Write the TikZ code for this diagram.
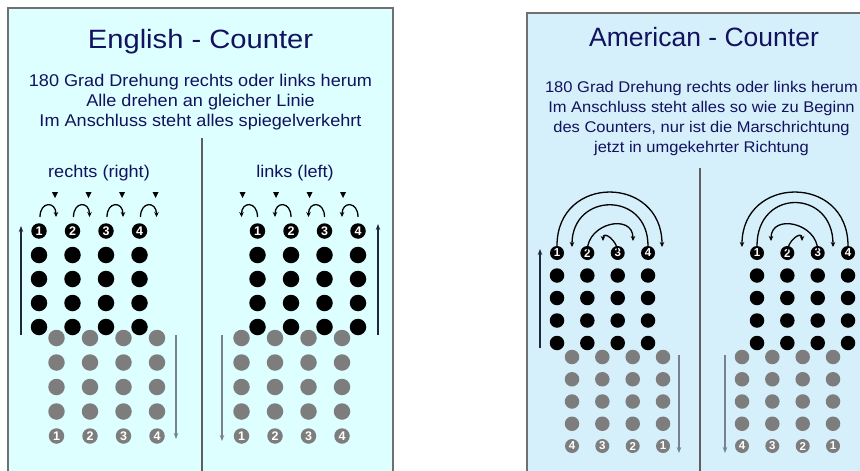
\documentclass[tikz,border=0pt]{standalone}
\usepackage{fontspec}
\usepackage{graphicx}
\setmainfont{Liberation Sans}
\usetikzlibrary{arrows.meta}
\definecolor{navy}{RGB}{18,18,95}
\definecolor{panelA}{RGB}{221,255,255}
\definecolor{panelB}{RGB}{213,239,251}
\definecolor{framec}{RGB}{112,112,112}
\definecolor{dotgray}{RGB}{125,125,125}
\definecolor{arrdark}{RGB}{30,40,60}
\definecolor{arrgray}{RGB}{120,130,140}
\tikzset{
  panel/.style={draw=framec,line width=2pt},
  divider/.style={draw=framec!85!black,line width=2pt},
  ttl/.style={text=navy,anchor=base,inner sep=0pt,font=\fontsize{26.5}{26.5}\selectfont},
  subt/.style={text=navy,anchor=base,inner sep=0pt,font=\fontsize{17}{17}\selectfont},
  subtS/.style={text=navy,anchor=base,inner sep=0pt,font=\fontsize{15.5}{15.5}\selectfont},
  bdot/.style={circle,fill=black,inner sep=0pt,minimum size=16.5pt},
  gdot/.style={circle,fill=dotgray,inner sep=0pt,minimum size=16.5pt},
  bnum/.style={circle,fill=black,text=white,inner sep=0pt,minimum size=15.5pt,font=\bfseries\fontsize{12.5}{12.5}\selectfont},
  gnum/.style={circle,fill=dotgray,text=white,inner sep=0pt,minimum size=15.5pt,font=\bfseries\fontsize{12.5}{12.5}\selectfont},
  bdotS/.style={bdot,minimum size=14.5pt},
  gdotS/.style={gdot,minimum size=14.5pt},
  bnumS/.style={bnum,minimum size=14pt,font=\bfseries\fontsize{11.5}{11.5}\selectfont},
  gnumS/.style={gnum,minimum size=14pt,font=\bfseries\fontsize{11.5}{11.5}\selectfont},
  darr/.style={draw=arrdark,line width=1.2pt,-{Stealth[length=6pt,width=4.5pt]}},
  garr/.style={draw=arrgray,line width=1.2pt,-{Stealth[length=6pt,width=4.5pt]}},
  carr/.style={draw=black,line width=1.3pt,-{Stealth[length=5pt,width=4.5pt]}},
  tri/.style={fill=black}
}
\begin{document}
\begin{tikzpicture}[x=1pt,y=-1pt]
\useasboundingbox (0,0) rectangle (860,471);
\clip (0,0) rectangle (860,471);
\fill[white] (0,0) rectangle (860,471);
% panels
\draw[panel,fill=panelA] (8,8) rectangle (393,495);
\draw[panel,fill=panelB] (527,13) rectangle (905,495);
\coordinate (dA0) at (202,138); \coordinate (dA1) at (202,480);
\coordinate (dB0) at (700,168); \coordinate (dB1) at (700,480);
\draw[divider] (dA0) -- (dA1);
\draw[divider] (dB0) -- (dB1);
% texts left
\node[ttl] (tA) at (200.5,48) {\scalebox{1.1}[1]{English - Counter}};
\node[subt] (sA1) at (200.5,86) {\scalebox{1.065}[1]{180 Grad Drehung rechts oder links herum}};
\node[subt] (sA2) at (200.5,106) {\scalebox{1.065}[1]{Alle drehen an gleicher Linie}};
\node[subt] (sA3) at (200.5,126) {\scalebox{1.065}[1]{Im Anschluss steht alles spiegelverkehrt}};
\node[subt] (hA1) at (99,177) {\scalebox{1.065}[1]{rechts (right)}};
\node[subt] (hA2) at (295,177) {\scalebox{1.065}[1]{links (left)}};
% texts right
\node[ttl] (tB) at (704,46) {American - Counter};
\node[subtS] (sB1) at (701.5,92) {\scalebox{1.065}[1]{180 Grad Drehung rechts oder links herum}};
\node[subtS] (sB2) at (701.5,112) {\scalebox{1.065}[1]{Im Anschluss steht alles so wie zu Beginn}};
\node[subtS] (sB3) at (701.5,132) {\scalebox{1.065}[1]{des Counters, nur ist die Marschrichtung}};
\node[subtS] (sB4) at (701.5,152) {\scalebox{1.065}[1]{jetzt in umgekehrter Richtung}};

% ---------- Left part 1: rechts ----------
\foreach \x [count=\i] in {56.5,90,123.5,157} {
  \foreach \y [count=\j] in {338,362.5,387,411.5} \node[gdot] (La-g\i-\j) at (\x,\y) {};
  \node[gnum] (La-g\i-5) at (\x,436) {\i};
}
\foreach \x [count=\i] in {39,72.5,106,139.5} {
  \foreach \y [count=\j from 2] in {255,279,303,327} \node[bdot] (La-b\i-\j) at (\x,\y) {};
  \node[bnum] (La-b\i-1) at (\x,231) {\i};
  \fill[tri] (\x+13,192) -- (\x+19,192) -- (\x+16,198) -- cycle;
  \coordinate (La-s\i) at (\x+1,217);
  \coordinate (La-e\i) at (\x+17,217);
  \draw[carr] (La-s\i) .. controls +(0,-16) and +(0,-16) .. (La-e\i);
}
\coordinate (La-u0) at (21,335); \coordinate (La-u1) at (21,226);
\draw[darr] (La-u0) -- (La-u1);
\coordinate (La-d0) at (176,335); \coordinate (La-d1) at (176,439);
\draw[garr] (La-d0) -- (La-d1);

% ---------- Left part 2: links ----------
\foreach \x [count=\i] in {241.5,275,308.5,342} {
  \foreach \y [count=\j] in {338,362.5,387,411.5} \node[gdot] (Lb-g\i-\j) at (\x,\y) {};
  \node[gnum] (Lb-g\i-5) at (\x,436) {\i};
}
\foreach \x [count=\i] in {257.5,291,324.5,358} {
  \foreach \y [count=\j from 2] in {255,279,303,327} \node[bdot] (Lb-b\i-\j) at (\x,\y) {};
  \node[bnum] (Lb-b\i-1) at (\x,231) {\i};
  \fill[tri] (\x-18,192) -- (\x-12,192) -- (\x-15,198) -- cycle;
  \coordinate (Lb-s\i) at (\x,217);
  \coordinate (Lb-e\i) at (\x-16,217);
  \draw[carr] (Lb-s\i) .. controls +(0,-16) and +(0,-16) .. (Lb-e\i);
}
\coordinate (Lb-u0) at (378,335); \coordinate (Lb-u1) at (378,224);
\draw[darr] (Lb-u0) -- (Lb-u1);
\coordinate (Lb-d0) at (222,335); \coordinate (Lb-d1) at (222,441);
\draw[garr] (Lb-d0) -- (Lb-d1);

% ---------- Right part 1 ----------
\foreach \x/\n [count=\i] in {572/4,602.3/3,632.7/2,663/1} {
  \foreach \y [count=\j] in {357,379.25,401.5,423.75} \node[gdotS] (Ra-g\i-\j) at (\x,\y) {};
  \node[gnumS] (Ra-g\i-5) at (\x,446) {\n};
}
\foreach \x [count=\i] in {557,587.3,617.7,648} {
  \foreach \y [count=\j from 2] in {275.5,298,320.5,343} \node[bdotS] (Ra-b\i-\j) at (\x,\y) {};
  \node[bnumS] (Ra-b\i-1) at (\x,253) {\i};
}
\coordinate (Ra-e1) at (662,247);
\coordinate (Ra-e4) at (572,247);
\coordinate (Ra-e2) at (633,241);
\coordinate (Ra-e3) at (603,241);
\draw[carr] (Ra-b1-1.north) .. controls +(0,-72) and +(0,-72) .. (Ra-e1);
\draw[carr] (Ra-b4-1.north) .. controls +(0,-55) and +(0,-55) .. (Ra-e4);
\draw[carr] ([yshift=-5pt]Ra-b2-1.north) .. controls +(0,-28) and +(0,-28) .. (Ra-e2);
\draw[carr] ([yshift=-6pt]Ra-b3-1.north) .. controls +(0,-11) and +(0,-11) .. (Ra-e3);
\coordinate (Ra-u0) at (540,348); \coordinate (Ra-u1) at (540,249);
\draw[darr] (Ra-u0) -- (Ra-u1);
\coordinate (Ra-d0) at (679,355); \coordinate (Ra-d1) at (679,453);
\draw[garr] (Ra-d0) -- (Ra-d1);

% ---------- Right part 2 ----------
\foreach \x/\n [count=\i] in {742/4,772.3/3,802.7/2,833/1} {
  \foreach \y [count=\j] in {357,379.25,401.5,423.75} \node[gdotS] (Rb-g\i-\j) at (\x,\y) {};
  \node[gnumS] (Rb-g\i-5) at (\x,446) {\n};
}
\foreach \x [count=\i] in {757,787.3,817.7,848} {
  \foreach \y [count=\j from 2] in {275.5,298,320.5,343} \node[bdotS] (Rb-b\i-\j) at (\x,\y) {};
  \node[bnumS] (Rb-b\i-1) at (\x,253) {\i};
}
\coordinate (Rb-e4) at (742,247);
\coordinate (Rb-e1) at (833,247);
\coordinate (Rb-e3) at (771,241);
\coordinate (Rb-e2) at (802,241);
\draw[carr] (Rb-b4-1.north) .. controls +(0,-72) and +(0,-72) .. (Rb-e4);
\draw[carr] (Rb-b1-1.north) .. controls +(0,-58) and +(0,-58) .. (Rb-e1);
\draw[carr] ([yshift=-5pt]Rb-b3-1.north) .. controls +(0,-28) and +(0,-28) .. (Rb-e3);
\draw[carr] ([yshift=-6pt]Rb-b2-1.north) .. controls +(0,-11) and +(0,-11) .. (Rb-e2);
\coordinate (Rb-d0) at (725,355); \coordinate (Rb-d1) at (725,453);
\draw[garr] (Rb-d0) -- (Rb-d1);
\end{tikzpicture}
\end{document}
